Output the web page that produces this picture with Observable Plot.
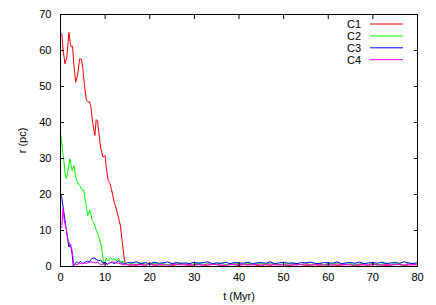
<!DOCTYPE html>
<html><head><meta charset="utf-8">
<script src="https://cdn.jsdelivr.net/npm/d3@7"></script>
<script src="https://cdn.jsdelivr.net/npm/@observablehq/plot@0.6"></script>
<style>body{margin:0;background:#fff}</style>
</head><body><div id="chart"></div>
<script>
const seriesNames = ["C1", "C2", "C3", "C4"];
const seriesColors = ["#ff0000", "#00ff00", "#0000ff", "#ff00ff"];
const xTicks = [0, 10, 20, 30, 40, 50, 60, 70, 80];
const yTicks = [0, 10, 20, 30, 40, 50, 60, 70];

// early evolution (t in Myr, r in pc)
const tC1 = [0,0.3,0.6,1.0,1.4,1.9,2.2,2.4,2.7,3.0,3.4,3.8,4.3,4.7,5.0,5.4,5.8,6.2,6.5,6.8,7.2,7.7,8.0,8.3,8.6,9.0,9.5,10.0,10.3,10.7,11.1,11.5,12.0,12.5,13.0,13.4,13.8,14.2,14.5,14.8,15.3];
const rC1 = [65,64.5,60,56.3,58,65,62,61,61.2,56,51.2,53,57.7,57.5,55,50,46.1,45.7,45.8,44.5,40,36.4,40.8,40.4,37,33,30.4,30.8,27,23.9,23,21,18,16,13.5,11.5,7.2,3,0.8,0.6,0.5];
const tC2 = [0,0.3,0.75,1.0,1.3,1.6,2.1,2.4,2.6,3.0,3.3,3.75,4.3,4.9,5.2,5.6,6.1,6.6,7.1,7.5,8.0,8.4,8.8,9.1,9.4,9.7,10.0,10.2,10.6,11.2,11.6,12.0,12.5,13.0,13.5,14.0,14.5,15.0];
const rC2 = [37,34,29.4,26,24.4,26,29.9,28,26.7,28,25.5,23.4,22.5,21.1,21.3,18,14.2,15.7,12.8,12,10.2,9,7.2,6,3.5,0.5,1.2,2.3,1.5,2.5,1.8,2.2,1.5,2.3,1.2,1.5,0.8,0.6];
const tC3 = [0,0.3,0.75,1.1,1.5,1.87,2.25,2.6,2.85,3.2,3.6,4.0,4.5,5.0,5.5,6.0,6.5,7.0,7.5,8.0,8.5,9.0,9.5,10.0,10.5,11.0,11.5,12.0,12.5,13.0,13.5,14.0,14.5,15.0];
const rC3 = [20.2,19,15.1,12,8.5,5.4,6.2,3.5,0.2,0.8,1.2,0.9,1.4,0.8,1.2,1.5,1.3,2.2,2.4,2.0,1.6,1.8,0.9,1.2,0.6,1.0,1.3,0.8,1.1,1.6,0.9,1.0,0.7,1.1];
const tC4 = [0,0.3,0.55,0.8,1.0,1.3,1.7,2.0,2.3,2.6,2.8,3.0,3.4,3.8,4.3,4.8,5.3,5.8,6.3,6.8,7.3,7.8,8.3,8.8,9.3,9.8,10.3,10.8,11.3,12,12.5,13,13.5,14,14.5,15];
const rC4 = [10.5,11,16,13,11.9,10.4,7.2,6.5,5.4,4.5,2.5,0.3,0.6,0.5,0.9,0.7,1.0,0.8,1.2,1.3,1.1,1.0,1.2,0.7,0.5,0.8,0.6,0.9,1.1,1.2,1.0,0.9,0.7,0.5,0.6,0.4];

// late evolution, one value per Myr from t = 16 to t = 80
const tTail = [16,17,18,19,20,21,22,23,24,25,26,27,28,29,30,31,32,33,34,35,36,37,38,39,40,41,42,43,44,45,46,47,48,49,50,51,52,53,54,55,56,57,58,59,60,61,62,63,64,65,66,67,68,69,70,71,72,73,74,75,76,77,78,79,80];
const rC1tail = [0.5,0.3,0.6,0.4,0.7,0.3,0.5,0.4,0.6,0.3,0.5,0.7,0.4,
  0.3,0.6,0.5,0.4,0.3,0.6,0.5,0.3,0.4,0.6,0.5,0.3,0.5,
  0.4,0.6,0.3,0.4,0.5,0.3,0.6,0.4,0.5,0.3,0.4,0.6,0.5,
  0.3,0.4,0.5,0.3,0.6,0.4,0.5,0.3,0.4,0.5,0.6,0.3,0.4,
  0.5,0.3,0.6,0.4,0.5,0.3,0.4,0.6,0.5,0.3,0.4,0.5,0.4];
const rC2tail = [0.8,0.6,1.0,0.7,0.5,0.9,0.6,0.8,0.5,0.7,0.9,0.6,0.8,
  0.5,0.7,1.0,0.6,0.8,0.5,0.7,0.9,0.6,0.5,0.8,0.7,0.6,
  0.9,0.5,0.7,0.8,0.6,1.0,0.7,0.5,0.8,0.6,0.9,0.7,0.5,
  0.8,0.6,0.7,0.9,0.5,0.8,0.6,1.0,0.7,0.6,0.8,0.5,0.7,
  0.9,0.6,0.8,0.5,0.7,1.0,0.6,0.8,0.7,0.5,0.9,0.6,0.7];
const rC3tail = [1.0,1.3,0.8,1.1,0.7,1.2,0.9,1.0,1.3,0.8,1.1,0.9,1.0,
  0.8,1.2,0.9,1.1,1.3,0.8,1.0,0.9,1.2,0.8,1.1,1.0,0.9,
  1.2,0.8,1.0,1.1,0.9,1.3,0.8,1.0,1.2,0.9,1.0,0.8,1.1,
  1.0,1.2,0.9,0.8,1.1,1.0,0.9,1.3,0.8,1.0,1.1,0.9,1.2,
  0.8,1.0,1.1,0.9,1.2,0.8,1.0,1.1,0.9,1.3,1.0,0.8,1.1];
const rC4tail = [0.4,0.6,0.5,0.3,0.7,0.5,0.4,0.6,0.3,0.5,0.7,0.4,0.6,
  0.5,0.3,0.6,0.4,0.7,0.5,0.6,0.4,0.3,0.5,0.6,0.4,0.7,
  0.5,0.4,0.6,0.3,0.5,0.7,0.4,0.5,0.6,0.3,0.5,0.4,0.6,
  0.7,0.4,0.5,0.6,0.3,0.5,0.4,0.7,0.5,0.6,0.4,0.3,0.6,
  0.5,0.4,0.7,0.5,0.3,0.6,0.4,0.5,0.6,0.4,0.7,0.5,0.6];

const early = [[tC1, rC1], [tC2, rC2], [tC3, rC3], [tC4, rC4]];
const tails = [rC1tail, rC2tail, rC3tail, rC4tail];
const rows = [];
seriesNames.forEach((name, i) => {
  const [ts, rs] = early[i];
  ts.forEach((t, j) => rows.push({series: name, t, r: rs[j]}));
  tails[i].forEach((r, j) => rows.push({series: name, t: tTail[j], r}));
});

const font = "'Liberation Sans', Arial, Helvetica, sans-serif";
const tick = 4;
const plot = Plot.plot({
  width: 436, height: 305,
  marginLeft: 60, marginRight: 19, marginTop: 14, marginBottom: 39,
  style: {fontFamily: font, fontSize: "11px", background: "#fff", color: "#000", overflow: "visible"},
  x: {domain: [0, 80]},
  y: {domain: [0, 70]},
  color: {domain: seriesNames, range: seriesColors},
  marks: [
    Plot.line(rows, {x: "t", y: "r", z: "series", stroke: "series", strokeWidth: 1, curve: "linear"}),
    Plot.frame({stroke: "#000", strokeWidth: 1}),
    // inward ticks on all four sides
    Plot.axisX({anchor: "bottom", ticks: xTicks, tickSize: tick, dy: -tick, tickFormat: () => "", label: null}),
    Plot.axisX({anchor: "top", ticks: xTicks, tickSize: tick, dy: tick, tickFormat: () => "", label: null}),
    Plot.axisY({anchor: "left", ticks: yTicks, tickSize: tick, dx: tick, tickFormat: () => "", label: null}),
    Plot.axisY({anchor: "right", ticks: yTicks, tickSize: tick, dx: -tick, tickFormat: () => "", label: null}),
    // tick labels and axis titles
    Plot.axisX({anchor: "bottom", ticks: xTicks, tickSize: 0, tickPadding: 7, label: "t (Myr)", labelAnchor: "center", labelArrow: "none", labelOffset: 33}),
    Plot.axisY({anchor: "left", ticks: yTicks, tickSize: 0, tickPadding: 9, label: "r (pc)", labelAnchor: "center", labelArrow: "none", labelOffset: 42})
  ]
});
document.getElementById("chart").appendChild(plot);

// legend inside the top-right of the frame
const svg = d3.select(plot);
const lg = svg.append("g").attr("font-family", font).attr("font-size", 11);
seriesNames.forEach((name, i) => {
  const y = 24 + i * 11.9;
  lg.append("text").attr("x", 361).attr("y", y).attr("dy", "0.35em").attr("text-anchor", "end").attr("fill", "#000").text(name);
  lg.append("line").attr("x1", 370).attr("x2", 403).attr("y1", y).attr("y2", y).attr("stroke", seriesColors[i]).attr("stroke-width", 1);
});
</script>
</body></html>
